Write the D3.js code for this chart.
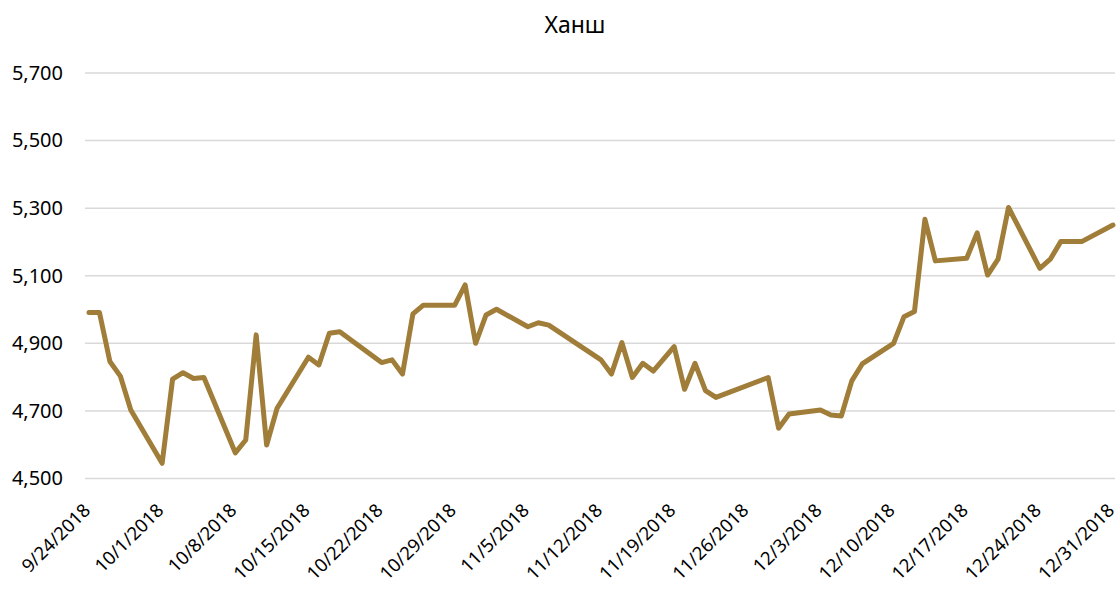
<!DOCTYPE html>
<html>
<head>
<meta charset="utf-8">
<script src="https://cdn.jsdelivr.net/npm/d3@7"></script>
<style>
  body { margin: 0; background: #fff; }
  svg text { font-family: "Noto Sans", "Open Sans", sans-serif; fill: #000; }
</style>
</head>
<body>
<svg id="chart" width="1119" height="590"></svg>
<script>
// rate dates (2018) and values
const dates = ["9/24","9/25","9/26","9/27","9/28","10/1","10/2","10/3","10/4","10/5",
  "10/8","10/9","10/10","10/11","10/12","10/15","10/16","10/17","10/18",
  "10/22","10/23","10/24","10/25","10/26","10/29","10/30","10/31","11/1","11/2",
  "11/5","11/6","11/7","11/12","11/13","11/14","11/15","11/16","11/17",
  "11/19","11/20","11/21","11/22","11/23","11/28","11/29","11/30",
  "12/3","12/4","12/5","12/6","12/7","12/10","12/11","12/12","12/13","12/14",
  "12/17","12/18","12/19","12/20","12/21","12/24","12/25","12/26","12/28","12/31"];
const rates = [4991,4991,4846,4803,4703,4545,4794,4813,4796,4799,
  4576,4614,4925,4599,4708,4859,4836,4930,4934,
  4843,4851,4809,4987,5013,5013,5073,4900,4984,5001,
  4949,4961,4954,4851,4809,4902,4799,4841,4818,
  4890,4764,4841,4760,4740,4799,4649,4691,
  4703,4688,4685,4789,4839,4900,4979,4994,5267,5144,
  5152,5227,5102,5149,5302,5122,5149,5201,5201,5250];
const xTicks = ["9/24","10/1","10/8","10/15","10/22","10/29","11/5","11/12",
  "11/19","11/26","12/3","12/10","12/17","12/24","12/31"];
const yTicks = [4500,4700,4900,5100,5300,5500,5700];
const title = "Ханш";

const parse = d3.utcParse("%m/%d/%Y");
const data = dates.map((d, i) => ({date: parse(d + "/2018"), value: rates[i]}));

const svg = d3.select("#chart");
const x = d3.scaleUtc()
  .domain([parse("9/24/2018"), parse("12/31/2018")])
  .range([89, 1113]);
const y = d3.scaleLinear().domain([4500, 5700]).range([478.5, 73]);

svg.append("text")
  .attr("x", 575).attr("y", 33)
  .attr("text-anchor", "middle")
  .attr("font-size", "23px")
  .text(title);

// gridlines
svg.append("g")
  .selectAll("line")
  .data(yTicks)
  .enter().append("line")
  .attr("x1", 85).attr("x2", 1115)
  .attr("y1", d => y(d)).attr("y2", d => y(d))
  .attr("stroke", "#d9d9d9")
  .attr("stroke-width", 1.5);

// y axis labels
const yAxis = svg.append("g")
  .attr("transform", "translate(63,0)")
  .call(d3.axisLeft(y).tickValues(yTicks).tickFormat(d3.format(",")).tickSize(0).tickPadding(0));
yAxis.select(".domain").remove();
yAxis.selectAll("text")
  .attr("font-size", "20px")
  .attr("fill", "#333")
  .style("font-family", "'Noto Sans', sans-serif");

// x axis labels, rotated
const xAxis = svg.append("g")
  .attr("transform", "translate(0,478.5)")
  .call(d3.axisBottom(x)
    .tickValues(xTicks.map(d => parse(d + "/2018")))
    .tickFormat(d3.utcFormat("%-m/%-d/%Y"))
    .tickSize(0));
xAxis.select(".domain").remove();
xAxis.selectAll("text")
  .attr("font-size", "18.5px")
  .attr("fill", "#333")
  .style("font-family", "'Noto Sans', sans-serif")
  .attr("text-anchor", "end")
  .attr("dy", null)
  .attr("y", 0)
  .attr("transform", "translate(2,33) rotate(-45)");

const line = d3.line()
  .x(d => x(d.date))
  .y(d => y(d.value));

svg.append("path")
  .datum(data)
  .attr("d", line)
  .attr("fill", "none")
  .attr("stroke", "#A07D38")
  .attr("stroke-width", 5)
  .attr("stroke-linejoin", "round")
  .attr("stroke-linecap", "round");
</script>
</body>
</html>
